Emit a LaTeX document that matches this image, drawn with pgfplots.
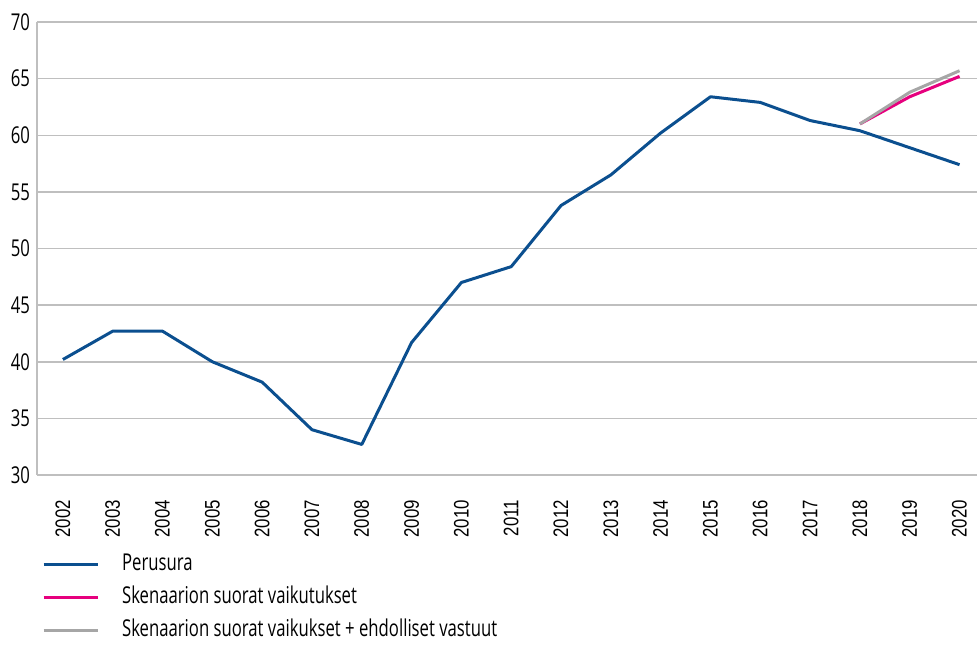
\documentclass[border=0pt]{standalone}
\usepackage{pgfplots}
\pgfplotsset{compat=1.18}
\usepackage{fontspec}
\setmainfont[FakeStretch=0.72]{Open Sans}
\newfontfamily\yearfont[FakeStretch=0.8]{Liberation Sans}
\definecolor{baseblue}{HTML}{0B4F8F}
\definecolor{scenpink}{HTML}{E6007E}
\definecolor{scengray}{HTML}{A6A6A6}
\definecolor{gridgray}{HTML}{BFBFBF}

\pgfplotstableread{
year val
2002 40.2
2003 42.7
2004 42.7
2005 40.0
2006 38.2
2007 34.0
2008 32.7
2009 41.7
2010 47.0
2011 48.4
2012 53.8
2013 56.5
2014 60.2
2015 63.4
2016 62.9
2017 61.3
2018 60.4
2019 58.9
2020 57.4
}\perusura

\pgfplotstableread{
year val
2018 61.0
2019 63.4
2020 65.2
}\suorat

\pgfplotstableread{
year val
2018 61.0
2019 63.8
2020 65.7
}\vastuut

\begin{document}
\begin{tikzpicture}
\useasboundingbox (-18.5pt,-84.5pt) rectangle (470pt,237.5pt);
\begin{axis}[
  at={(0,0)}, anchor=south west,
  scale only axis,
  width=470pt, height=226.5pt,
  xmin=2001.48, xmax=2020.35,
  ymin=30, ymax=70,
  ytick={30,35,...,70},
  xtick={2002,...,2020},
  /pgf/number format/assume math mode=true,
  /pgf/number format/1000 sep={},
  major tick length=0pt,
  axis x line*=bottom, axis y line*=left,
  axis line style={gridgray, line width=0.75pt, -},
  ymajorgrids,
  grid style={gridgray, line width=0.75pt},
  yticklabel style={font=\fontsize{11.6}{11.6}\selectfont},
  xticklabel style={font=\yearfont\fontsize{10.5}{10.5}\selectfont, yshift=-9pt, rotate=90, anchor=east},
  legend cell align=left,
  legend style={draw=none, fill=none, inner sep=0pt, at={(rel axis cs:0.005,-0.1745)}, anchor=north west,
    row sep=6pt, column sep=11.5pt,
    nodes={inner sep=0pt, text height=8pt, text depth=2.5pt},
    font=\fontsize{11.6}{11.6}\selectfont},
  legend image code/.code={\draw[#1] (0pt,0pt) -- (27pt,0pt);},
  every axis plot/.append style={line width=1.5pt, line join=round},
]
\addplot[baseblue] table[x=year, y=val] {\perusura};
\addplot[scenpink] table[x=year, y=val] {\suorat};
\addplot[scengray] table[x=year, y=val] {\vastuut};
\legend{Perusura, Skenaarion suorat vaikutukset, Skenaarion suorat vaikukset + ehdolliset vastuut}
\end{axis}
\end{tikzpicture}
\end{document}
